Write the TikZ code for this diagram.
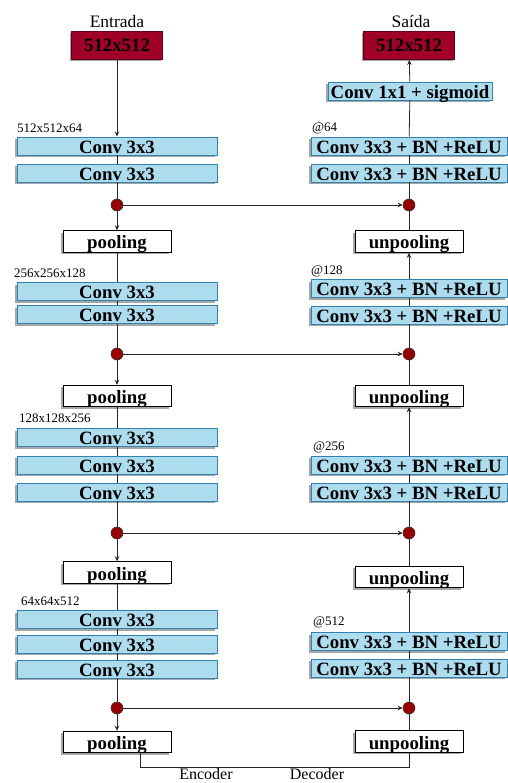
\documentclass[tikz,border=0pt]{standalone}
\usepackage{fontspec}
\setmainfont{Liberation Serif}
\usetikzlibrary{arrows.meta,shadows}
\definecolor{convblue}{RGB}{173,220,239}
\definecolor{convedge}{RGB}{50,130,175}
\definecolor{datared}{RGB}{160,0,40}
\definecolor{dotred}{RGB}{150,0,0}
\newcommand{\blockfont}{\fontsize{18.8}{20}\selectfont\bfseries}
\tikzset{
  boxshadow/.style = {general shadow={fill=black!35, shadow xshift=-2pt, shadow yshift=-2pt}},
  convbox/.style = {rectangle, draw=convedge, fill=convblue, line width=0.9pt, boxshadow, inner sep=1.5pt, minimum width=200pt, minimum height=18pt, text height=14.5pt, text depth=0pt, font=\blockfont},
  decbox/.style = {convbox, minimum width=196pt},
  poolbox/.style = {rectangle, draw=black, fill=white, line width=1pt, boxshadow, inner sep=1.5pt, minimum width=108pt, minimum height=21.5pt, text height=15pt, text depth=0pt, font=\blockfont},
  imgbox/.style = {rectangle, draw=datared!60!black, fill=datared, line width=0.8pt, boxshadow, inner sep=1.5pt, minimum width=91pt, minimum height=28pt, text height=12.5pt, text depth=0pt, font=\blockfont},
  joint/.style = {circle, draw=black!80, fill=dotred, line width=0.6pt, inner sep=0pt, minimum size=12pt},
  dimlabel/.style = {anchor=west, inner sep=0pt, font=\fontsize{13}{14}\selectfont},
  titlelabel/.style = {inner sep=0pt, font=\fontsize{17.5}{19}\selectfont},
  partlabel/.style = {anchor=base, inner sep=0pt, text depth=0pt, font=\fontsize{16}{17}\selectfont},
  link/.style = {line width=0.8pt, black!85},
  flow/.style = {link, -{Stealth[length=5pt,width=4.5pt]}},
}

\begin{document}
\begin{tikzpicture}[x=1pt, y=-1pt]
\useasboundingbox (0,0) rectangle (507,783);

% encoder: input image
\node[titlelabel] (entrada) at (117,22) {Entrada};
\node[imgbox] (in) at (117,45) {512x512};

% encoder level 1
\node[dimlabel] (dim1) at (17,128) {512x512x64};
\node[convbox] (c11) at (117,146) {Conv 3x3};
\node[convbox] (c12) at (117,173) {Conv 3x3};
\node[joint] (d1) at (117,205) {};
\node[poolbox] (p1) at (117,241.5) {pooling};

% encoder level 2
\node[dimlabel] (dim2) at (14,273) {256x256x128};
\node[convbox] (c21) at (117,291.5) {Conv 3x3};
\node[convbox] (c22) at (117,314.5) {Conv 3x3};
\node[joint] (d2) at (117,354) {};
\node[poolbox] (p2) at (117,396) {pooling};

% encoder level 3
\node[dimlabel] (dim3) at (19,418) {128x128x256};
\node[convbox] (c31) at (117,437.5) {Conv 3x3};
\node[convbox] (c32) at (117,465) {Conv 3x3};
\node[convbox] (c33) at (117,492) {Conv 3x3};
\node[joint] (d3) at (117,533) {};
\node[poolbox] (p3) at (117,572.5) {pooling};

% encoder level 4
\node[dimlabel] (dim4) at (21,601) {64x64x512};
\node[convbox] (c41) at (117,619.5) {Conv 3x3};
\node[convbox] (c42) at (117,644) {Conv 3x3};
\node[convbox] (c43) at (117,669) {Conv 3x3};
\node[joint] (d4) at (117,708) {};
\node[poolbox] (p4) at (117,742) {pooling};

% decoder: output image
\node[titlelabel] (saida) at (411,22) {Saída};
\node[imgbox] (out) at (409,45.5) {512x512};
\node[convbox, minimum width=164pt] (sig) at (410,91) {Conv 1x1 + sigmoid};

% decoder level 1
\node[dimlabel] (at1) at (312,128) {@64};
\node[decbox] (r11) at (409,146) {Conv 3x3 + BN +ReLU};
\node[decbox] (r12) at (409,173) {Conv 3x3 + BN +ReLU};
\node[joint] (e1) at (409,205) {};
\node[poolbox] (u1) at (409,241.5) {unpooling};

% decoder level 2
\node[dimlabel] (at2) at (311,271) {@128};
\node[decbox] (r21) at (409,288.5) {Conv 3x3 + BN +ReLU};
\node[decbox] (r22) at (409,315) {Conv 3x3 + BN +ReLU};
\node[joint] (e2) at (409,354) {};
\node[poolbox] (u2) at (409,396) {unpooling};

% decoder level 3
\node[dimlabel] (at3) at (313,447) {@256};
\node[decbox] (r31) at (409,465) {Conv 3x3 + BN +ReLU};
\node[decbox] (r32) at (409,492) {Conv 3x3 + BN +ReLU};
\node[joint] (e3) at (409,533) {};
\node[poolbox] (u3) at (409,577) {unpooling};

% decoder level 4
\node[dimlabel] (at4) at (313,622) {@512};
\node[decbox] (r41) at (409,641.5) {Conv 3x3 + BN +ReLU};
\node[decbox] (r42) at (409,668) {Conv 3x3 + BN +ReLU};
\node[joint] (e4) at (409,708) {};
\node[poolbox] (u4) at (409,741.5) {unpooling};

% encoder path
\draw[flow] (in) -- (c11);
\draw[link] (c11) -- (c12);
\draw[link] (c12) -- (d1);
\draw[flow] (d1) -- (p1);
\draw[link] (p1) -- (c21);
\draw[link] (c21) -- (c22);
\draw[link] (c22) -- (d2);
\draw[flow] (d2) -- (p2);
\draw[link] (p2) -- (c31);
\draw[link] (c31) -- (c32);
\draw[link] (c32) -- (c33);
\draw[link] (c33) -- (d3);
\draw[flow] (d3) -- (p3);
\draw[link] (p3) -- (c41);
\draw[link] (c41) -- (c42);
\draw[link] (c42) -- (c43);
\draw[link] (c43) -- (d4);
\draw[flow] (d4) -- (p4);

% skip connections
\draw[flow] (d1) -- (e1);
\draw[flow] (d2) -- (e2);
\draw[flow] (d3) -- (e3);
\draw[flow] (d4) -- (e4);

% decoder path
\draw[link] (u4) -- (e4);
\draw[link] (e4) -- (r42);
\draw[link] (r42) -- (r41);
\draw[flow] (r41) -- (u3);
\draw[link] (u3) -- (e3);
\draw[link] (e3) -- (r32);
\draw[link] (r32) -- (r31);
\draw[flow] (r31) -- (u2);
\draw[link] (u2) -- (e2);
\draw[link] (e2) -- (r22);
\draw[link] (r22) -- (r21);
\draw[flow] (r21) -- (u1);
\draw[link] (u1) -- (e1);
\draw[link] (e1) -- (r12);
\draw[link] (r12) -- (r11);
\draw[link] (r11) -- (sig);
\draw[flow] (sig) -- (out);

% bottleneck
\draw[link] ([xshift=23pt]p4.south) -- ++(0,14) -| (u4.south);
\node[partlabel] (enc) at (206,779.3) {Encoder};
\node[partlabel] (dec) at (317,779.3) {Decoder};

\end{tikzpicture}
\end{document}
